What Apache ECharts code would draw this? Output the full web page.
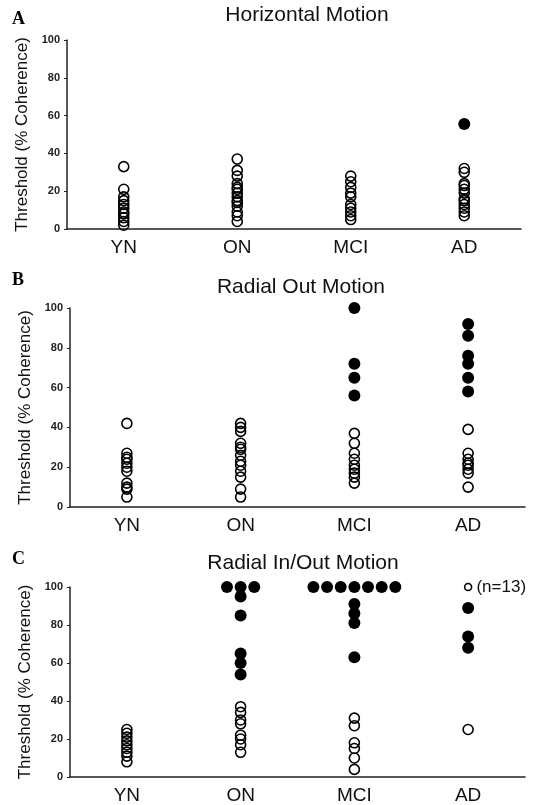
<!DOCTYPE html>
<html>
<head>
<meta charset="utf-8">
<script src="https://cdn.jsdelivr.net/npm/echarts@6/dist/echarts.min.js"></script>
<style>
html,body{margin:0;padding:0;background:#fff;}
#chart{width:542px;height:805px;}
</style>
</head>
<body>
<div id="chart"></div>
<script>
var groups=['YN','ON','MCI','AD'];
var yTicks=[0,20,40,60,80,100];

// A - horizontal motion
var hOpen=[
    [33,21,17,15,13,11,9,8,6,4,2],
    [37,31,28,24,22,21,19,17,15,14,12,9,7,4],
    [28,25,22,19,17,13,11,9,7,5],
    [32,30,24,23,21,19,16,15,13,11,9,7]
];
var hFilled=[[],[],[],[55.5]];

// B - radial out motion
var bOpen=[
    [42,27,25,24,22,20,18,12,10,9,5],
    [42,40,38,32,30,29,26,23,21,18,15,9,5],
    [37,32,27,24,21,19,17,15,12],
    [39,27,24,22,21,19,17,10]
];
var bFilled=[[],[],[100,72,65,56],[92,86,76,72,65,58]];

// C - radial in/out motion
var cOpen=[
    [25,23,21,19,17,15,13,11,8],
    [37,34,30,28,22,20,17,13],
    [31,27,18,15,10,4],
    [25]
];
var cFilled=[
    [],
    [100,100,100,95,85,65,60,54],
    [100,100,100,100,100,100,100,91,86,81,63],
    [89,74,68]
];
var cCeilingAD=100;
var cCeilingLabel='(n=13)';

var panels=[
    {letter:'A',title:'Horizontal Motion',open:hOpen,filled:hFilled,
     left:67,right:21,top:40,height:189,titleX:307,titleY:15,letterY:19},
    {letter:'B',title:'Radial Out Motion',open:bOpen,filled:bFilled,
     left:70,right:17,top:308,height:199,titleX:301,titleY:287,letterY:280},
    {letter:'C',title:'Radial In/Out Motion',open:cOpen,filled:cFilled,
     left:70,right:17,top:587,height:190,titleX:303,titleY:563,letterY:559}
];

var openStyle={color:'rgba(255,255,255,0)',borderColor:'#000',borderWidth:1.6,opacity:1};
var filledStyle={color:'#000',borderColor:'#000',borderWidth:0,opacity:1};

function toPoints(arr,spread){
    var pts=[];
    for(var g=0;g<arr.length;g++){
        var top=arr[g].filter(function(v){return v>=100;}).length;
        var k=0;
        for(var i=0;i<arr[g].length;i++){
            var v=arr[g][i];
            var x=g;
            if(spread && v>=100 && top>1){
                x=g+(k-(top-1)/2)*0.12;
                k++;
            }
            pts.push([x,v]);
        }
    }
    return pts;
}

var grids=[],xAxes=[],yAxes=[],series=[],graphics=[];
panels.forEach(function(p,i){
    grids.push({left:p.left,right:p.right,top:p.top,height:p.height});
    xAxes.push({
        type:'category',gridIndex:i,data:groups,boundaryGap:true,
        axisLine:{lineStyle:{color:'#222',width:1.5}},
        axisTick:{alignWithLabel:true,length:4,lineStyle:{color:'#222'}},
        axisLabel:{color:'#111',fontSize:19,fontFamily:'Liberation Sans',margin:9}
    });
    xAxes.push({
        type:'value',gridIndex:i,min:-0.5,max:3.5,show:false,splitLine:{show:false}
    });
    yAxes.push({
        type:'value',gridIndex:i,min:0,max:100,interval:20,
        name:'Threshold (% Coherence)',nameLocation:'middle',nameGap:35,
        nameTextStyle:{color:'#111',fontSize:17,fontFamily:'Liberation Sans'},
        axisLine:{show:true,onZero:false,lineStyle:{color:'#222',width:1.5}},
        axisTick:{show:true,length:3,lineStyle:{color:'#222'}},
        splitLine:{show:false},
        axisLabel:{color:'#222',fontSize:11,fontWeight:'bold',fontFamily:'Liberation Sans',margin:7}
    });
    series.push({
        type:'scatter',xAxisIndex:2*i+1,yAxisIndex:i,symbol:'circle',symbolSize:10,
        itemStyle:openStyle,data:toPoints(p.open,false),z:3
    });
    series.push({
        type:'scatter',xAxisIndex:2*i+1,yAxisIndex:i,symbol:'circle',symbolSize:12,
        itemStyle:filledStyle,data:toPoints(p.filled,true),z:4
    });
    graphics.push({type:'text',x:12,y:p.letterY,
        style:{text:p.letter,font:'bold 18px "Liberation Serif"',fill:'#000',verticalAlign:'middle'}});
    graphics.push({type:'text',x:p.titleX,y:p.titleY,
        style:{text:p.title,font:'21px "Liberation Sans"',fill:'#111',align:'center',verticalAlign:'middle'}});
});

// AD ceiling marker in panel C
series.push({
    type:'scatter',xAxisIndex:5,yAxisIndex:2,symbol:'circle',symbolSize:7,
    itemStyle:openStyle,data:[[3,cCeilingAD]],z:5,
    label:{show:true,position:'right',distance:4,formatter:cCeilingLabel,
        color:'#111',fontSize:17,fontFamily:'Liberation Sans'}
});

var myChart=echarts.init(document.getElementById('chart'));
myChart.setOption({
    backgroundColor:'#fff',
    animation:false,
    grid:grids,
    xAxis:xAxes,
    yAxis:yAxes,
    series:series,
    graphic:graphics
});
</script>
</body>
</html>
